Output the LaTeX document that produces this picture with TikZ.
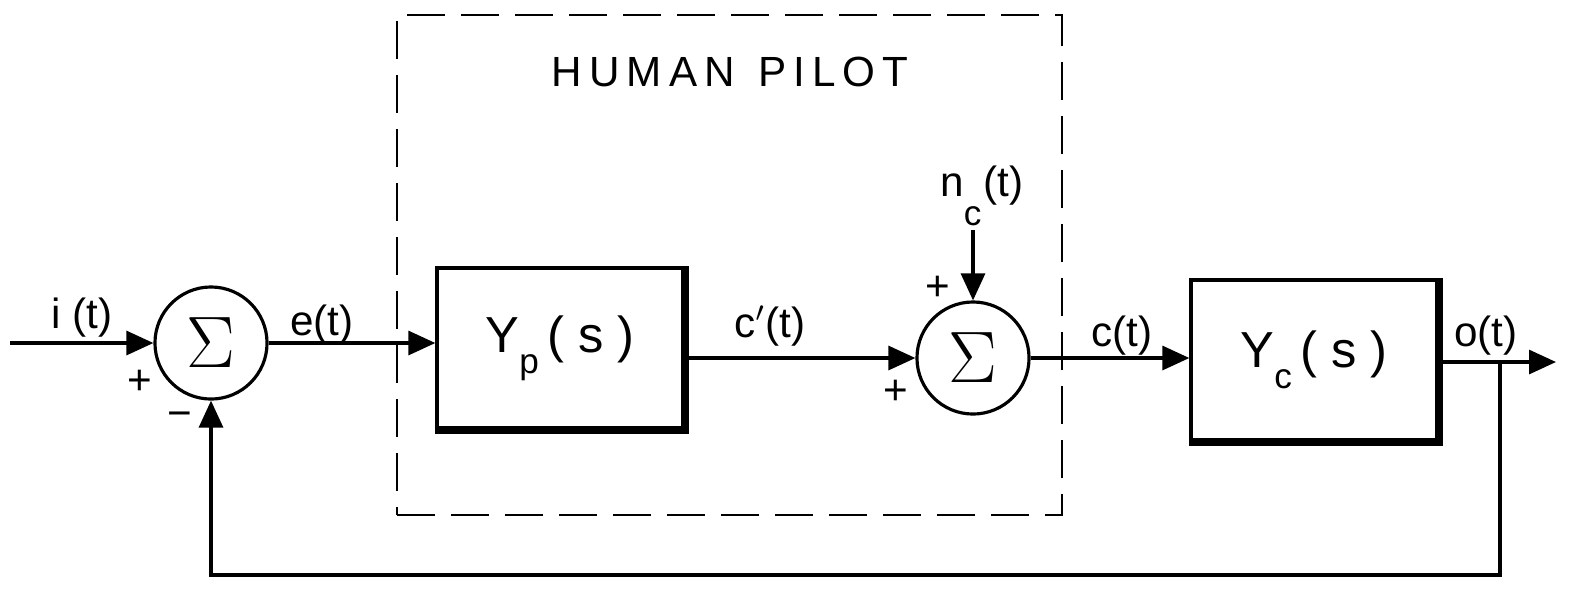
\documentclass[tikz,border=0pt]{standalone}
\usepackage{fontspec}
\setmainfont{Liberation Sans}
\usetikzlibrary{arrows.meta,positioning,calc}

\begin{document}
\begin{tikzpicture}[
  x=0.01cm, y=-0.01cm,
  font=\large,
  >={Triangle[length=0.27cm, width=0.24cm]},
  sumnode/.style={circle, draw, line width=0.9pt, minimum size=1.12cm, inner sep=0pt, font=\huge},
  block/.style={rectangle, draw, line width=0.9pt, minimum width=2.46cm, minimum height=1.6cm, font=\Large},
  shade/.style={line width=2.2pt},
  pilotbox/.style={rectangle, draw, line width=0.7pt, dash pattern=on 0.38cm off 0.16cm,
                   minimum width=6.65cm, minimum height=5cm},
  sig/.style={->, line width=0.9pt},
  lbl/.style={inner sep=1pt, font=\large},
  sgn/.style={inner sep=0pt, font=\large},
]
\useasboundingbox (0,0) rectangle (1573,602);

% human pilot boundary
\node[pilotbox] (pilot) at (729.5,265) {};
\node[lbl] (title) at (730,72) {H\,U\,M\,A\,N\ \ P\,I\,L\,O\,T};

% blocks
\node[sumnode] (sum1) at (211,343) {$\Sigma$};
\node[block] (yp) at (560,348) {Y\raisebox{-0.8ex}{\normalsize p}\,( s )};
\node[sumnode] (sum2) at (973,358) {$\Sigma$};
\node[block] (yc) at (1314,360) {Y\raisebox{-0.8ex}{\normalsize c}\,( s )};
\draw[shade] (yp.south west) -- (yp.south east) -- (yp.north east);
\draw[shade] (yc.south west) -- (yc.south east) -- (yc.north east);

\node[lbl] (nc) at (982,196) {n\raisebox{-1.3ex}{\normalsize c}\kern0.05em(t)};

\coordinate (in) at (10,343);
\coordinate (out) at (1556,362);
\coordinate (fb) at (1500,575);

% signals
\draw[sig] (in) -- (sum1.west);
\draw[sig] (sum1.east) -- (sum1.east -| yp.west);
\draw[sig] (yp.east |- sum2.west) -- (sum2.west);
\draw[sig] (sum2.north |- nc.south) -- (sum2.north);
\draw[sig] (sum2.east) -- (sum2.east -| yc.west);
\draw[sig] (yc.east |- out) -- (out);
\draw[sig] (fb |- out) -- (fb) -| (sum1.south);

% labels
\node[lbl] (li) at (82,318) {i (t)};
\node[lbl] (le) at (322,325) {e(t)};
\node[lbl] (lcp) at (770,326) {c$'$(t)};
\node[lbl] (lc) at (1122,336) {c(t)};
\node[lbl] (lo) at (1486,336) {o(t)};

% signs
\node[sgn] (p1) at (140,382) {+};
\node[sgn] (m1) at (180,420) {\textminus};
\node[sgn] (p2) at (938,288) {+};
\node[sgn] (p3) at (896,392) {+};

\end{tikzpicture}
\end{document}
